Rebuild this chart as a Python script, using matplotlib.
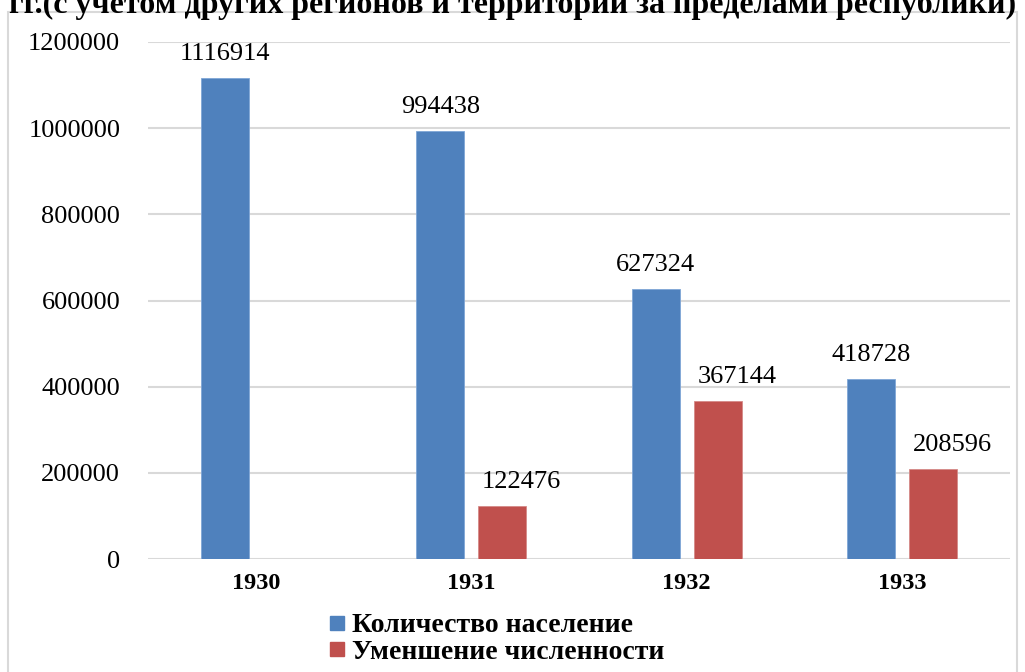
import numpy as np
import matplotlib.pyplot as plt
from matplotlib.patches import Rectangle
from matplotlib.lines import Line2D

years = ['1930', '1931', '1932', '1933']
population = [1116914, 994438, 627324, 418728]
decrease = [np.nan, 122476, 367144, 208596]
series_names = ['Количество население', 'Уменшение численности']
title = 'гг.(с учетом других регионов и территорий за пределами республики)'

blue = '#4F81BD'
red = '#C0504D'
grid = '#D9D9D9'

plt.rcParams['font.family'] = ['Liberation Serif', 'DejaVu Serif']

fig = plt.figure(figsize=(10.25, 6.72), dpi=100)
fig.patches.append(Rectangle((8 / 1025, -0.1), 1009 / 1025, 1.1 - 12 / 672,
                             transform=fig.transFigure, fill=False,
                             edgecolor=grid, linewidth=1.5))
fig.text(1016 / 1025, 1 - 13 / 672, title, ha='right', va='baseline',
         fontsize=23, fontweight='bold')

ax = fig.add_axes([148 / 1025, 1 - 559 / 672, 862 / 1025, 517 / 672])
x = np.arange(len(years))
w = 0.223
off = 0.144
b1 = ax.bar(x - off, population, w, color=blue, edgecolor='#7FA6D6', linewidth=0.6, zorder=3)
b2 = ax.bar(x + off, decrease, w, color=red, edgecolor='#D58A88', linewidth=0.6, zorder=3)

# подписи значений (у красных столбцов в оригинале сдвинуты вправо)
for bars, vals, dx in ((b1, population, 0), (b2, decrease, 14)):
    for r, v in zip(bars, vals):
        if np.isnan(v):
            continue
        ax.annotate(str(v), (r.get_x() + r.get_width() / 2, v),
                    xytext=(dx, 13), textcoords='offset points',
                    ha='center', va='baseline', fontsize=19)

ax.set_xlim(-0.5, 3.5)
ax.set_ylim(0, 1200000)
ax.set_yticks(range(0, 1200001, 200000))
ax.set_yticklabels([str(t) for t in range(0, 1200001, 200000)], fontsize=19)
ax.set_xticks(x)
ax.set_xticklabels(years, fontsize=17.5, fontweight='bold')
ax.tick_params(axis='y', length=0, pad=20)
ax.tick_params(axis='x', length=0, pad=10)
ax.grid(axis='y', color=grid, linewidth=1.5, zorder=0)
for s in ax.spines.values():
    s.set_visible(False)

handles = [Line2D([], [], marker='s', linestyle='none', markersize=9.5, color=c)
           for c in (blue, red)]
fig.legend(handles, series_names, loc='upper left',
           bbox_to_anchor=(312 / 1025, 1 - 599 / 672), frameon=False,
           prop={'size': 20, 'weight': 'bold'}, handletextpad=0.15,
           labelspacing=0.05, borderpad=0, handlelength=0.8)

fig.savefig('out.png', dpi=100)
